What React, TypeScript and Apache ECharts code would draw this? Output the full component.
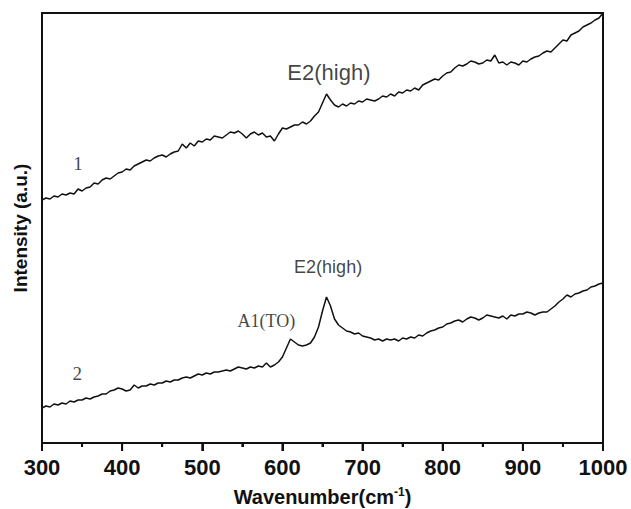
import React, { useEffect, useRef } from "react";
import * as echarts from "echarts";

// Sampling grid of the Raman spectra (cm-1), every 5 cm-1 from 300 to 1000
const waveStart = 300;
const waveStep = 5;

// Spectrum 1 (upper curve), arbitrary intensity units
const intensity1: number[] = [
  243, 245, 244, 247, 246, 249, 248, 250, 249, 254, 252, 255, 256, 260, 259, 263, 265, 264, 267, 270,
  271, 274, 273, 277, 279, 281, 283, 282, 285, 287, 288, 286, 289, 291, 292, 299, 295, 300, 297, 302,
  301, 304, 303, 307, 306, 305, 308, 311, 310, 312, 309, 305, 309, 311, 308, 310, 306, 307, 302, 309,
  315, 314, 316, 318, 318, 321, 319, 322, 327, 331, 340, 349, 343, 338, 336, 339, 337, 340, 339, 342,
  341, 344, 343, 342, 344, 347, 346, 349, 347, 351, 350, 353, 352, 355, 353, 358, 360, 362, 364, 363,
  367, 370, 371, 375, 378, 377, 379, 382, 381, 379, 380, 383, 382, 388, 380, 381, 378, 381, 380, 378,
  382, 381, 384, 386, 387, 390, 392, 391, 395, 399, 403, 402, 408, 410, 412, 416, 418, 420, 423, 425,
  430,
];

// Spectrum 2 (lower curve), arbitrary intensity units
const intensity2: number[] = [
  35, 37, 36, 39, 38, 40, 39, 42, 41, 43, 43, 45, 44, 46, 47, 49, 49, 52, 53, 55,
  54, 52, 53, 58, 55, 57, 57, 59, 58, 60, 60, 62, 61, 63, 63, 65, 66, 65, 67, 69,
  68, 70, 69, 71, 71, 72, 73, 72, 74, 76, 75, 74, 76, 75, 77, 76, 80, 76, 78, 81,
  86, 95, 104, 101, 98, 97, 98, 100, 106, 116, 132, 146, 137, 124, 118, 115, 112, 111, 109, 110,
  107, 106, 105, 103, 104, 102, 104, 103, 104, 102, 105, 104, 106, 105, 108, 107, 110, 112, 113, 115,
  116, 119, 120, 122, 123, 121, 124, 126, 125, 123, 125, 128, 127, 126, 125, 127, 124, 128, 127, 129,
  129, 131, 130, 128, 130, 131, 131, 134, 137, 141, 144, 148, 146, 149, 150, 152, 153, 156, 157, 159,
  160,
];

const xTicks: number[] = [300, 400, 500, 600, 700, 800, 900, 1000];
const xMinorTicks: number[] = [350, 450, 550, 650, 750, 850, 950];
const yMin = 0;
const yMax = 430;

// Annotation texts and their anchor points in data coordinates (wavenumber, intensity)
const annotationTexts = ["1", "2", "E2(high)", "A1(TO)", "E2(high)"];
const annotationX: number[] = [345, 344, 658, 580, 657];
const annotationY: number[] = [280, 70, 371, 122, 176];
const annotationSerif: boolean[] = [true, true, false, true, false];
const annotationSize: number[] = [19, 19, 22, 18, 18];

export default function App() {
  const ref = useRef<HTMLDivElement>(null);
  useEffect(() => {
    if (!ref.current) return;
    const chart = echarts.init(ref.current, undefined, { renderer: "svg" });
    const s1 = intensity1.map((v, i) => [waveStart + i * waveStep, v]);
    const s2 = intensity2.map((v, i) => [waveStart + i * waveStep, v]);
    const font = "Liberation Sans, Arial, sans-serif";
    const serif = "Liberation Serif, Times New Roman, serif";
    const labelData = annotationTexts.map((t, i) => ({
      value: [annotationX[i], annotationY[i]],
      name: t,
      label: {
        show: true,
        position: "inside",
        formatter: t,
        fontFamily: annotationSerif[i] ? serif : font,
        fontSize: annotationSize[i],
        color: "#111",
      },
    }));
    const tickRender = (len: number) => (params: any, api: any) => {
      const p = api.coord([api.value(0), yMin]);
      return {
        type: "line",
        shape: { x1: p[0], y1: p[1], x2: p[0], y2: p[1] + len },
        style: { stroke: "#111", lineWidth: 2 },
        silent: true,
      };
    };
    const frameRender = (params: any, api: any) => {
      const a = api.coord([xTicks[0], yMax]);
      const b = api.coord([xTicks[xTicks.length - 1], yMin]);
      return {
        type: "rect",
        shape: { x: a[0], y: a[1], width: b[0] - a[0], height: b[1] - a[1] },
        style: { fill: "none", stroke: "#111", lineWidth: 2 },
        silent: true,
      };
    };
    chart.setOption({
      animation: false,
      backgroundColor: "#ffffff",
      tooltip: { show: false },
      grid: { left: 42, right: 28, top: 13, bottom: 66, outerBoundsMode: "none" },
      xAxis: [
        {
          type: "value",
          position: "bottom",
          min: xTicks[0],
          max: xTicks[xTicks.length - 1],
          interval: 100,
          name: "Wavenumber(cm{sup|-1})",
          nameLocation: "middle",
          nameGap: 43,
          nameTextStyle: {
            fontFamily: font,
            fontWeight: "bold",
            fontSize: 20,
            color: "#111",
            rich: {
              sup: {
                fontFamily: font,
                fontWeight: "bold",
                fontSize: 12,
                color: "#111",
                verticalAlign: "top",
                padding: [0, 0, 9, 0],
              },
            },
          },
          axisLine: { show: true, onZero: false, lineStyle: { color: "#111", width: 2 } },
          axisTick: { show: true, inside: false, length: 8, lineStyle: { color: "#111", width: 2 } },
          minorTick: { show: true, splitNumber: 2, length: 4, lineStyle: { color: "#111", width: 2 } },
          splitLine: { show: false },
          minorSplitLine: { show: false },
          axisLabel: {
            show: true,
            fontFamily: font,
            fontWeight: "bold",
            fontSize: 22,
            color: "#111",
            margin: 13,
            formatter: (v: number) => String(v),
          },
        },
        {
          type: "value",
          position: "top",
          min: xTicks[0],
          max: xTicks[xTicks.length - 1],
          axisLine: { show: true, onZero: false, lineStyle: { color: "#111", width: 2 } },
          axisTick: { show: false },
          axisLabel: { show: false },
          splitLine: { show: false },
        },
      ],
      yAxis: [
        {
          type: "value",
          position: "left",
          min: yMin,
          max: yMax,
          name: "Intensity (a.u.)",
          nameLocation: "middle",
          nameGap: 12,
          nameTextStyle: { fontFamily: font, fontWeight: "bold", fontSize: 19, color: "#111" },
          axisLine: { show: true, onZero: false, lineStyle: { color: "#111", width: 2 } },
          axisTick: { show: false },
          axisLabel: { show: false },
          splitLine: { show: false },
        },
        {
          type: "value",
          position: "right",
          min: yMin,
          max: yMax,
          axisLine: { show: true, onZero: false, lineStyle: { color: "#111", width: 2 } },
          axisTick: { show: false },
          axisLabel: { show: false },
          splitLine: { show: false },
        },
      ],
      series: [
        { type: "line", data: s1, showSymbol: false, silent: true, lineStyle: { color: "#111", width: 1.5 } },
        { type: "line", data: s2, showSymbol: false, silent: true, lineStyle: { color: "#111", width: 1.5 } },
        {
          type: "custom",
          data: xTicks.map((v) => [v, yMin]),
          renderItem: tickRender(8),
          clip: false,
          silent: true,
          z: 5,
        },
        {
          type: "custom",
          data: xMinorTicks.map((v) => [v, yMin]),
          renderItem: tickRender(4),
          clip: false,
          silent: true,
          z: 5,
        },
        {
          type: "custom",
          data: [[xTicks[0], yMin]],
          renderItem: frameRender,
          clip: false,
          silent: true,
          z: 5,
        },
        {
          type: "scatter",
          data: labelData,
          symbolSize: 0,
          silent: true,
          itemStyle: { color: "transparent" },
        },
      ],
    });
    return () => chart.dispose();
  }, []);
  return <div ref={ref} style={{ width: 631, height: 509, position: "absolute", left: 0, top: 0 }} />;
}
